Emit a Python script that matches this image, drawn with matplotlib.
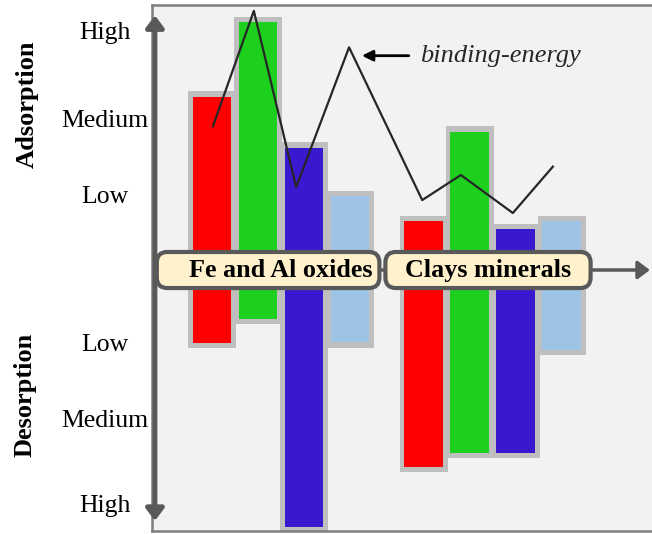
import numpy as np
import matplotlib
matplotlib.use('Agg')
import matplotlib.pyplot as plt

plt.rcParams['font.family'] = ['Liberation Serif', 'DejaVu Serif']

# data (levels: 1 = low, 2 = medium, 3 = high)
groups = ['Fe and Al oxides', 'Clays minerals']
bar_colors = ['#ff0000', '#1ed01e', '#3a18d0', '#9dc3e6']
adsorption = [[2.28, 3.26, 1.61, 0.97],
              [0.64, 1.82, 0.54, 0.64]]
desorption = [[0.96, 0.64, 3.38, 0.95],
              [2.59, 2.41, 2.41, 1.05]]
group_start = [0.0, 4.6]

# binding-energy curve
be_x = [0.02, 0.91, 1.83, 2.98, 4.57, 5.41, 6.54, 7.41]
be_y = [1.89, 3.41, 1.09, 2.93, 0.92, 1.25, 0.75, 1.36]

level_names = ['Low', 'Medium', 'High']
ads_levels = [1.0, 2.0, 3.15]
des_levels = [-0.95, -1.95, -3.07]

grey = '#595959'

fig = plt.figure(figsize=(6.52, 5.34), dpi=100)
ax = fig.add_axes([152/652, 3/534, 500/652, 526/534])
ax.set_xlim(-1.304, 9.565)
ax.set_ylim(-3.434, 3.487)
ax.set_facecolor('#f2f2f2')
for s in ['top', 'bottom', 'left']:
    ax.spines[s].set_color('#7f7f7f')
    ax.spines[s].set_linewidth(1.8)
ax.spines['right'].set_visible(False)
ax.set_xticks([])

ax.set_yticks(ads_levels + des_levels, level_names + level_names)
ax.tick_params(axis='y', length=0, pad=34, labelsize=18.5)
plt.setp(ax.get_yticklabels(), ha='center')

for g in range(len(groups)):
    xs = group_start[g] + np.arange(4)
    up = np.array(adsorption[g])
    down = np.array(desorption[g])
    ax.bar(xs, up + 0.07, width=1.04, color='#bfbfbf', zorder=2)
    ax.bar(xs, -(down + 0.07), width=1.04, color='#bfbfbf', zorder=2)
    ax.bar(xs, up, width=0.84, color=bar_colors, zorder=3)
    ax.bar(xs, -down, width=0.84, color=bar_colors, zorder=3)

ax.plot(be_x, be_y, color='#262626', lw=1.6, zorder=4)
ax.annotate('binding-energy', xy=(3.26, 2.82), xytext=(4.52, 2.82),
            ha='left', va='center', fontsize=19, style='italic', color='#262626',
            arrowprops=dict(arrowstyle='-|>', color='black', lw=2,
                            mutation_scale=16, shrinkA=6, shrinkB=0),
            zorder=6)

# axes arrows
ax.annotate('', xy=(9.52, 0), xytext=(-1.24, 0),
            arrowprops=dict(arrowstyle='-|>,head_width=0.3', color=grey, lw=2.5,
                            mutation_scale=18, shrinkA=0, shrinkB=0),
            zorder=4.5, annotation_clip=False)
ax.annotate('', xy=(-1.24, 3.35), xytext=(-1.24, -3.30),
            arrowprops=dict(arrowstyle='<|-|>,head_width=0.3', color=grey, lw=3.5,
                            mutation_scale=18, shrinkA=0, shrinkB=0),
            zorder=6, annotation_clip=False)

# group labels
label_x = [1.22, 6.0]
label_text = ['    Fe and Al oxides', '  Clays minerals  ']
for x, t in zip(label_x, label_text):
    ax.text(x, 0.0, t, ha='center', va='center', fontsize=18.8,
            fontweight='bold', zorder=7,
            bbox=dict(boxstyle='round,pad=0.25,rounding_size=0.4',
                      fc='#fff2cc', ec=grey, lw=3))

ax.text(-4.02, 2.18, 'Adsorption', rotation=90, ha='center', va='center',
        fontsize=19, fontweight='bold', clip_on=False)
ax.text(-4.07, -1.64, 'Desorption', rotation=90, ha='center', va='center',
        fontsize=19, fontweight='bold', clip_on=False)

fig.savefig('out.png', dpi=100)
